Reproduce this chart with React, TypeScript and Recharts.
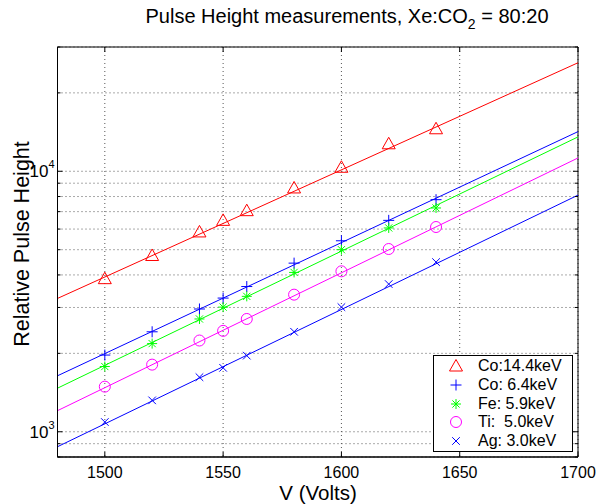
import React from 'react';
import { ComposedChart, Line, XAxis, YAxis, CartesianGrid, ReferenceArea } from 'recharts';

const FONT = '"Liberation Sans", Arial, Helvetica, sans-serif';

// measured voltages (V)
const voltages = [1500, 1520, 1540, 1550, 1560, 1580, 1600, 1620, 1640];

// relative pulse heights
const co144 = [3870, 4750, 5850, 6480, 7060, 8630, 10360, 12750, 14560];
const co64 = [1970, 2420, 2960, 3260, 3610, 4440, 5410, 6480, 7780];
const fe59 = [1780, 2180, 2710, 3010, 3310, 4090, 5000, 6060, 7230];
const ti50 = [1490, 1810, 2240, 2440, 2710, 3360, 4130, 5030, 6110];
const ag30 = [1090, 1320, 1620, 1760, 1960, 2420, 3010, 3690, 4480];

// fitted lines, read where they meet the axes box
const fitVoltages = [1480, 1700];
const co144Fit = [3250, 26100];
const co64Fit = [1640, 14200];
const fe59Fit = [1470, 13550];
const ti50Fit = [1205, 11250];
const ag30Fit = [876, 8100];

const xDomain = [1480, 1700];
const yDomain = [800, 30000];
const xTicks = [1500, 1550, 1600, 1650, 1700];
const yTicks = [800, 900, 1000, 2000, 3000, 4000, 5000, 6000, 7000, 8000, 9000, 10000, 20000, 30000];
const yMajor = [1000, 10000];

const series = [
  { name: 'Co:14.4keV', color: '#ff0000', marker: 'triangle', values: co144, fit: co144Fit },
  { name: 'Co: 6.4keV', color: '#0000ff', marker: 'plus', values: co64, fit: co64Fit },
  { name: 'Fe: 5.9keV', color: '#00ff00', marker: 'star', values: fe59, fit: fe59Fit },
  { name: 'Ti:  5.0keV', color: '#ff00ff', marker: 'circle', values: ti50, fit: ti50Fit },
  { name: 'Ag: 3.0keV', color: '#0000ff', marker: 'cross', values: ag30, fit: ag30Fit },
];

// plot box size, used to mirror the inward ticks onto the top and right edges
const PLOT_W = 520.5;
const PLOT_H = 410;

function Marker({ type, cx, cy, color }: { type: string; cx: number; cy: number; color: string }) {
  const p = { fill: 'none', stroke: color, strokeWidth: 1 };
  switch (type) {
    case 'triangle':
      return <polygon points={`${cx},${cy - 6.5} ${cx - 6.5},${cy + 5} ${cx + 6.5},${cy + 5}`} {...p} />;
    case 'plus':
      return <path d={`M${cx - 5.5},${cy}H${cx + 5.5}M${cx},${cy - 5.5}V${cy + 5.5}`} {...p} />;
    case 'star':
      return (
        <path
          d={`M${cx - 5},${cy}H${cx + 5}M${cx},${cy - 5}V${cy + 5}M${cx - 3.6},${cy - 3.6}L${cx + 3.6},${cy + 3.6}M${cx - 3.6},${cy + 3.6}L${cx + 3.6},${cy - 3.6}`}
          {...p}
        />
      );
    case 'circle':
      return <circle cx={cx} cy={cy} r={5.5} {...p} />;
    default:
      return <path d={`M${cx - 3.8},${cy - 3.8}L${cx + 3.8},${cy + 3.8}M${cx - 3.8},${cy + 3.8}L${cx + 3.8},${cy - 3.8}`} {...p} />;
  }
}

function BottomTick({ x, y, payload }: any) {
  return (
    <g>
      <line x1={x} x2={x} y1={y} y2={y - 5} stroke="#000" />
      <line x1={x} x2={x} y1={y - PLOT_H} y2={y - PLOT_H + 5} stroke="#000" />
      <text x={x} y={y + 21} textAnchor="middle" fontSize={16} fontFamily={FONT} fill="#000">
        {payload.value}
      </text>
    </g>
  );
}

function LeftTick({ x, y, payload }: any) {
  const len = yMajor.includes(payload.value) ? 5 : 3;
  return (
    <g>
      <line x1={x} x2={x + len} y1={y} y2={y} stroke="#000" />
      <line x1={x + PLOT_W} x2={x + PLOT_W - len} y1={y} y2={y} stroke="#000" />
      {len === 5 && (
        <text x={x - 3} y={y + 6} textAnchor="end" fontSize={17} fontFamily={FONT} fill="#000">
          10
          <tspan dy={-9} fontSize={11}>
            {Math.round(Math.log10(payload.value))}
          </tspan>
        </text>
      )}
    </g>
  );
}

function LegendBox() {
  return (
    <div
      style={{
        position: 'absolute',
        left: 433,
        top: 355,
        width: 138,
        height: 94,
        border: '1px solid #000',
        background: '#fff',
        paddingTop: 1,
        fontFamily: FONT,
        fontSize: 16,
      }}
    >
      {series.map((s) => (
        <div key={s.name} style={{ display: 'flex', alignItems: 'center', height: 18.7 }}>
          <svg width={44} height={18} style={{ display: 'block' }}>
            <Marker type={s.marker} cx={22} cy={9} color={s.color} />
          </svg>
          <span style={{ whiteSpace: 'pre', lineHeight: '18px' }}>{s.name}</span>
        </div>
      ))}
    </div>
  );
}

export default function App() {
  return (
    <div style={{ position: 'absolute', left: 0, top: 0, width: 597, height: 504, background: '#fff' }}>
      <ComposedChart width={597} height={504} margin={{ top: 47, right: 19, bottom: 0, left: 0 }}>
        <CartesianGrid xAxisId="b" yAxisId="l" stroke="#555" strokeDasharray="1 3" />
        <XAxis
          xAxisId="b"
          dataKey="x"
          type="number"
          domain={xDomain}
          allowDataOverflow
          ticks={xTicks}
          height={47}
          tickSize={0}
          tickMargin={0}
          tickLine={false}
          tick={<BottomTick />}
          interval={0}
          stroke="#000"
        />
        <YAxis
          yAxisId="l"
          dataKey="v"
          type="number"
          scale="log"
          domain={yDomain}
          allowDataOverflow
          ticks={yTicks}
          width={57.5}
          tickSize={0}
          tickMargin={0}
          tickLine={false}
          tick={<LeftTick />}
          interval={0}
          stroke="#000"
        />
        <ReferenceArea
          xAxisId="b"
          yAxisId="l"
          x1={xDomain[0]}
          x2={xDomain[1]}
          y1={yDomain[0]}
          y2={yDomain[1]}
          fill="none"
          stroke="#000"
          strokeWidth={1}
        />
        {series.map((s) => (
          <Line
            key={s.name + '-fit'}
            xAxisId="b"
            yAxisId="l"
            data={fitVoltages.map((x, i) => ({ x, v: s.fit[i] }))}
            dataKey="v"
            stroke={s.color}
            strokeWidth={1}
            dot={false}
            activeDot={false}
            isAnimationActive={false}
          />
        ))}
        {series.map((s) => (
          <Line
            key={s.name + '-pts'}
            xAxisId="b"
            yAxisId="l"
            data={voltages.map((x, i) => ({ x, v: s.values[i] }))}
            dataKey="v"
            stroke="none"
            activeDot={false}
            isAnimationActive={false}
            dot={(d: any) => <Marker key={d.key ?? d.index} type={s.marker} cx={d.cx} cy={d.cy} color={s.color} />}
          />
        ))}
      </ComposedChart>
      <LegendBox />
      <div
        style={{
          position: 'absolute',
          left: 0,
          width: 694,
          top: 5,
          textAlign: 'center',
          fontFamily: FONT,
          fontSize: 20,
          lineHeight: '22px',
        }}
      >
        Pulse Height measurements, Xe:CO<sub style={{ fontSize: 14, verticalAlign: -6, lineHeight: 0 }}>2</sub> = 80:20
      </div>
      <div
        style={{
          position: 'absolute',
          left: 0,
          width: 636,
          top: 482,
          textAlign: 'center',
          fontFamily: FONT,
          fontSize: 20.5,
          lineHeight: '22px',
        }}
      >
        V (Volts)
      </div>
      <div
        style={{
          position: 'absolute',
          left: 22 - 150,
          top: 244 - 12,
          width: 300,
          height: 24,
          textAlign: 'center',
          fontFamily: FONT,
          fontSize: 21.5,
          lineHeight: '24px',
          transform: 'rotate(-90deg)',
        }}
      >
        Relative Pulse Height
      </div>
    </div>
  );
}
